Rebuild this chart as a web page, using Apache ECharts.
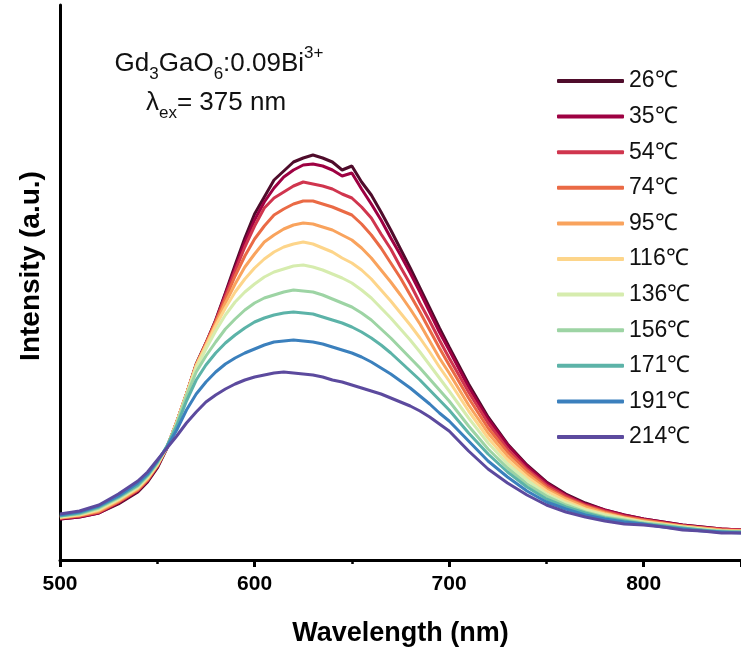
<!DOCTYPE html>
<html>
<head>
<meta charset="utf-8">
<script src="https://cdn.jsdelivr.net/npm/echarts@6/dist/echarts.min.js"></script>
<style>
  html, body { margin: 0; padding: 0; background: #fff; }
  #main { width: 741px; height: 655px; }
</style>
</head>
<body>
<div id="main"></div>
<script>
// wavelength grid (nm)
const wavelengths = [500, 510, 520, 530, 540,
  545, 550, 555, 560, 565, 570, 575, 580, 585, 590, 595, 600, 605, 610, 615, 620, 625,
  630, 635, 640, 645, 650, 655, 660, 665, 670, 675, 680, 685, 690, 695, 700,
  710, 720, 730, 740, 750, 760, 770, 780, 790, 800, 810, 820, 830, 840, 850]

const temps = ["26℃", "35℃", "54℃", "74℃", "95℃", "116℃", "136℃", "156℃", "171℃", "191℃", "214℃"]
const colors = ["#4f0c2b", "#9e0142", "#d0354e", "#ea6a45", "#f9a35d", "#fdd58a",
  "#d6ecae", "#9dd4a4", "#5cb3a8", "#3b80bd", "#5c4a9e"]

// emission intensity (a.u.)
const i26 = [41, 43, 47, 56, 68,
  78, 92, 112, 138, 166, 196, 217, 240, 267, 295, 322, 346, 363, 380, 389, 398, 402,
  405, 402, 398, 390, 394, 378, 365, 348, 330, 311, 292, 272, 252, 232, 213,
  176, 143, 116, 95, 78, 66, 57, 50, 45, 41, 38, 35, 33, 31, 30]
const i35 = [41, 43, 47, 57, 69,
  79, 93, 113, 138, 166, 195, 216, 239, 266, 292, 318, 340, 358, 372, 383, 390, 395,
  396, 394, 390, 384, 387, 371, 356, 340, 322, 305, 287, 268, 248, 228, 210,
  173, 141, 115, 94, 77, 65, 56, 50, 45, 41, 38, 35, 33, 31, 30]
const i54 = [42, 44, 48, 58, 70,
  80, 94, 113, 138, 166, 195, 217, 239, 264, 289, 313, 334, 352, 362, 368, 374, 378,
  376, 374, 371, 366, 362, 353, 342, 326, 311, 293, 276, 257, 239, 220, 202,
  168, 137, 111, 91, 75, 64, 55, 49, 44, 40, 37, 34, 32, 31, 30]
const i74 = [42, 44, 48, 58, 70,
  80, 94, 113, 138, 166, 195, 216, 238, 261, 284, 304, 321, 334, 345, 351, 356, 359,
  359, 356, 353, 349, 345, 336, 325, 312, 297, 282, 265, 248, 230, 212, 195,
  162, 132, 108, 89, 73, 62, 54, 48, 43, 40, 37, 34, 32, 30, 29]
const i95 = [42, 45, 49, 59, 71,
  81, 95, 113, 138, 166, 195, 215, 236, 257, 276, 293, 306, 318, 325, 331, 335, 337,
  336, 333, 330, 325, 320, 312, 302, 290, 278, 265, 251, 236, 219, 202, 187,
  155, 127, 104, 86, 71, 61, 53, 47, 42, 39, 36, 34, 32, 30, 29]
const i116 = [43, 45, 50, 60, 72,
  82, 95, 113, 138, 166, 194, 214, 234, 252, 268, 281, 292, 301, 308, 313, 316, 318,
  316, 312, 308, 302, 297, 290, 281, 270, 259, 247, 235, 222, 208, 193, 179,
  149, 122, 100, 83, 69, 59, 51, 46, 42, 38, 36, 33, 31, 29, 29]
const i136 = [43, 46, 51, 61, 73,
  83, 96, 113, 137, 165, 192, 211, 229, 245, 258, 268, 276, 283, 288, 291, 294, 295,
  293, 290, 286, 282, 277, 270, 262, 252, 242, 231, 220, 208, 195, 182, 169,
  142, 117, 96, 80, 66, 57, 50, 45, 41, 38, 35, 33, 31, 29, 28]
const i156 = [44, 46, 52, 62, 74,
  84, 97, 114, 136, 164, 188, 204, 218, 231, 241, 250, 257, 262, 265, 268, 270, 269,
  268, 265, 261, 257, 253, 247, 240, 231, 222, 212, 202, 192, 181, 170, 159,
  134, 111, 92, 76, 64, 55, 48, 43, 40, 37, 35, 32, 30, 29, 28]
const i171 = [44, 47, 53, 63, 75,
  85, 98, 114, 134, 159, 180, 195, 207, 217, 225, 232, 238, 242, 245, 247, 248, 247,
  246, 243, 240, 237, 233, 228, 222, 215, 207, 198, 189, 180, 170, 160, 150,
  127, 106, 88, 73, 61, 53, 47, 42, 39, 36, 34, 32, 30, 28, 28]
const i191 = [45, 48, 54, 64, 77,
  86, 99, 113, 130, 150, 166, 178, 188, 196, 202, 207, 211, 215, 218, 219, 220, 219,
  218, 216, 213, 210, 207, 203, 198, 192, 186, 179, 172, 164, 156, 147, 139,
  119, 99, 83, 69, 58, 51, 45, 41, 38, 36, 33, 31, 29, 28, 27]
const i214 = [46, 49, 55, 66, 79,
  88, 100, 112, 124, 137, 148, 158, 165, 171, 176, 180, 183, 185, 187, 188, 187, 186,
  185, 183, 180, 178, 175, 172, 169, 166, 162, 158, 154, 149, 143, 136, 129,
  109, 91, 77, 65, 55, 48, 43, 39, 36, 35, 33, 30, 29, 27, 27]

const intensities = [i26, i35, i54, i74, i95, i116, i136, i156, i171, i191, i214]

const font = 'Arial, "Liberation Sans", sans-serif'

const myE = echarts.init(document.getElementById("main"))
let option = {
  animation: false,
  grid: {
    left: 60,
    right: -4,
    top: 5,
    bottom: 95,
  },
  legend: {
    orient: "vertical",
    left: 552,
    top: 64,
    icon: "roundRect",
    itemWidth: 67,
    itemHeight: 4,
    itemGap: 11.6,
    textStyle: {
      fontSize: 23,
      lineHeight: 24,
      color: "#111",
      fontFamily: font,
    },
    data: temps,
  },
  graphic: [
    {
      type: "text",
      x: 219,
      y: 64,
      style: {
        text: "{m|Gd}{s|3}{m|GaO}{s|6}{m|:0.09Bi}{p|3+}",
        align: "center",
        verticalAlign: "middle",
        rich: {
          m: { fontSize: 26, lineHeight: 38, fontFamily: font, fill: "#111" },
          s: { fontSize: 17, lineHeight: 17, verticalAlign: "bottom", fontFamily: font, fill: "#111" },
          p: { fontSize: 17, lineHeight: 17, verticalAlign: "top", fontFamily: font, fill: "#111" },
        },
      },
    },
    {
      type: "text",
      x: 216,
      y: 103,
      style: {
        text: "{m|λ}{s|ex}{m|= 375 nm}",
        align: "center",
        verticalAlign: "middle",
        rich: {
          m: { fontSize: 26, lineHeight: 38, fontFamily: font, fill: "#111" },
          s: { fontSize: 17, lineHeight: 17, verticalAlign: "bottom", fontFamily: font, fill: "#111" },
        },
      },
    },
    {
      type: "text",
      x: 31,
      y: 266,
      rotation: Math.PI / 2,
      style: {
        text: "Intensity (a.u.)",
        align: "center",
        verticalAlign: "middle",
        fontSize: 28,
        fontWeight: "bold",
        fontFamily: font,
        fill: "#000",
      },
    },
  ],
  xAxis: {
    type: "value",
    min: 500,
    max: 850,
    interval: 100,
    name: "Wavelength (nm)",
    nameLocation: "middle",
    nameGap: 60,
    nameTextStyle: { fontSize: 27, fontWeight: "bold", color: "#000", fontFamily: font },
    axisLine: { lineStyle: { color: "#000", width: 3 } },
    axisTick: { length: 7, lineStyle: { color: "#000", width: 3 } },
    minorTick: { show: true, splitNumber: 2, length: 4, lineStyle: { color: "#000", width: 2.5 } },
    splitLine: { show: false },
    axisLabel: {
      fontSize: 21,
      fontWeight: "bold",
      color: "#000",
      margin: 14,
      fontFamily: font,
      showMaxLabel: false,
    },
  },
  yAxis: {
    type: "value",
    min: 0,
    max: 555,
    axisLine: { show: true, lineStyle: { color: "#000", width: 3 } },
    axisTick: { show: false },
    axisLabel: { show: false },
    splitLine: { show: false },
  },
  series: temps.map((t, i) => ({
    name: t,
    type: "line",
    symbol: "none",
    color: colors[i],
    lineStyle: { width: 3, color: colors[i] },
    data: wavelengths.map((w, k) => [w, intensities[i][k]]),
  })),
}
myE.setOption(option)
</script>
</body>
</html>
